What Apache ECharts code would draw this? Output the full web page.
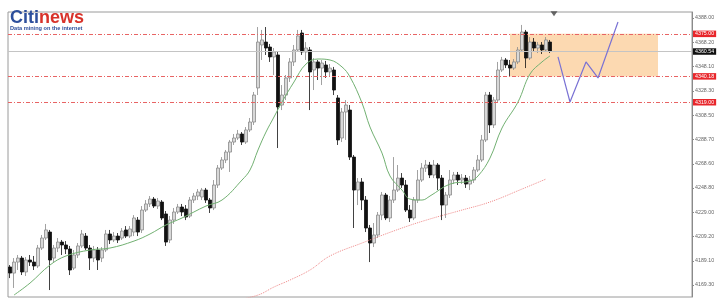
<!DOCTYPE html>
<html><head><meta charset="utf-8">
<script src="https://cdn.jsdelivr.net/npm/echarts@6/dist/echarts.min.js"></script>
<style>html,body{margin:0;padding:0;background:#fff}#c{width:725px;height:308px}</style>
</head><body><div id="c"></div>
<script>
// Candle values (price)
const opens = [
4184.1,4179.1,4188.1,4191.4,4180.0,4189.8,4188.1,4184.9,4199.6,4207.8,
4212.7,4191.4,4199.6,4204.5,4202.1,4198.8,4183.2,4193.9,4201.3,4209.4,
4199.6,4191.4,4198.0,4191.4,4198.0,4211.1,4206.2,4209.4,4207.8,4214.4,
4209.4,4212.7,4222.5,4214.4,4230.7,4235.7,4239.7,4234.0,4237.3,4227.5,
4206.2,4222.5,4229.1,4233.2,4231.6,4225.8,4238.9,4242.2,4241.4,4247.1,
4238.9,4232.4,4251.2,4265.1,4271.7,4278.2,4286.4,4289.7,4293.0,4286.4,
4296.3,4302.8,4330.7,4365.9,4368.3,4364.2,4356.1,4357.7,4316.7,4324.9,
4338.9,4352.0,4361.8,4375.7,4360.2,4361.8,4345.4,4352.0,4347.0,4349.5,
4343.8,4345.4,4322.5,4289.7,4311.0,4312.6,4274.1,4247.1,4253.7,4238.9,
4216.0,4203.7,4210.3,4226.6,4243.0,4224.2,4238.9,4247.1,4256.9,4251.2,
4230.7,4224.2,4238.9,4255.3,4265.1,4267.6,4259.4,4267.6,4256.9,4234.8,
4243.0,4255.3,4259.4,4255.3,4256.9,4252.0,4255.3,4263.5,4271.7,4288.1,
4324.9,4300.4,4320.8,4345.4,4353.6,4349.5,4347.0,4352.0,4361.8,4376.5,
4355.2,4368.3,4363.4,4365.9,4361.8,4368.3];
const closes = [
4179.1,4188.1,4191.4,4180.0,4189.8,4188.1,4184.9,4199.6,4207.8,4214.4,
4189.8,4199.6,4204.5,4202.1,4198.8,4181.6,4193.9,4201.3,4211.1,4199.6,
4191.4,4198.0,4189.8,4198.0,4211.1,4206.2,4209.4,4206.2,4213.5,4209.4,
4215.2,4224.2,4212.7,4230.7,4235.7,4239.7,4234.0,4238.1,4224.2,4204.5,
4222.5,4229.1,4233.2,4229.1,4225.0,4238.9,4242.2,4245.5,4247.1,4238.9,
4232.4,4251.2,4265.1,4271.7,4278.2,4286.4,4289.7,4293.0,4286.4,4296.3,
4302.8,4324.9,4368.3,4370.0,4363.4,4356.1,4360.2,4315.1,4324.9,4338.9,
4352.0,4361.8,4373.3,4360.2,4363.4,4343.8,4352.0,4347.0,4351.1,4343.8,
4347.0,4329.0,4288.1,4311.0,4316.7,4274.1,4247.1,4253.7,4238.9,4216.0,
4203.7,4210.3,4226.6,4243.0,4224.2,4238.9,4247.1,4256.9,4251.2,4230.7,
4224.2,4238.9,4255.3,4265.1,4267.6,4259.4,4267.6,4256.9,4234.8,4243.0,
4255.3,4259.4,4255.3,4256.9,4252.0,4255.3,4263.5,4271.7,4288.1,4324.9,
4300.4,4320.8,4345.4,4353.6,4349.5,4347.0,4352.0,4361.8,4376.5,4355.2,
4368.3,4363.4,4365.9,4361.8,4370.0,4360.54];
const highs = [
4185.7,4191.4,4193.9,4193.1,4192.2,4193.9,4193.1,4202.1,4210.3,4219.3,
4214.4,4202.1,4207.8,4206.2,4205.3,4201.3,4198.0,4203.7,4214.4,4211.9,
4202.1,4201.3,4200.4,4200.4,4214.4,4214.4,4212.7,4211.9,4216.0,4217.6,
4217.6,4226.6,4225.0,4234.0,4238.9,4242.2,4241.4,4240.6,4238.9,4229.9,
4225.8,4232.4,4235.7,4235.7,4234.8,4241.4,4244.7,4247.9,4248.8,4248.8,
4240.6,4255.3,4267.6,4274.1,4279.9,4288.1,4293.0,4296.3,4294.6,4298.7,
4306.1,4327.4,4380.6,4378.2,4380.6,4366.7,4363.4,4360.2,4333.1,4341.3,
4355.2,4365.9,4378.2,4378.2,4368.3,4364.2,4355.2,4353.6,4353.6,4352.8,
4350.3,4347.9,4324.9,4314.3,4320.8,4316.7,4275.8,4256.9,4256.9,4242.2,
4218.5,4220.1,4229.1,4245.5,4244.7,4242.2,4274.1,4267.6,4261.0,4255.3,
4234.8,4241.4,4263.5,4269.2,4271.7,4270.1,4271.7,4269.2,4259.4,4245.5,
4263.5,4261.9,4261.9,4260.2,4259.4,4258.6,4266.0,4275.8,4292.2,4327.4,
4327.4,4323.3,4352.0,4356.1,4355.2,4353.6,4354.4,4364.2,4382.3,4378.2,
4372.4,4371.6,4368.3,4368.3,4372.4,4370.0];
const lows = [
4175.0,4166.9,4181.6,4177.5,4176.7,4184.9,4181.6,4183.2,4198.0,4206.2,
4165.2,4188.1,4196.3,4193.9,4194.7,4177.5,4181.6,4191.4,4199.6,4198.0,
4181.6,4188.1,4181.6,4188.1,4196.3,4202.9,4204.5,4203.7,4206.2,4207.8,
4207.8,4209.4,4209.4,4211.9,4229.1,4233.2,4232.4,4231.6,4222.5,4201.3,
4203.7,4219.3,4227.5,4225.8,4222.5,4224.2,4236.5,4238.9,4238.9,4236.5,
4228.3,4230.7,4248.8,4263.5,4269.2,4261.9,4284.0,4288.1,4284.0,4284.8,
4294.6,4300.4,4324.9,4353.6,4357.7,4352.0,4341.3,4281.5,4312.6,4320.8,
4335.6,4348.7,4360.2,4357.7,4353.6,4312.6,4329.0,4337.2,4333.1,4338.9,
4340.5,4324.9,4284.0,4286.4,4288.1,4271.7,4216.0,4234.8,4230.7,4212.7,
4188.1,4200.4,4207.8,4222.5,4222.5,4220.9,4236.5,4245.5,4248.8,4229.1,
4220.9,4222.5,4236.5,4253.7,4261.9,4256.9,4256.9,4247.1,4222.5,4224.2,
4240.6,4252.0,4251.2,4252.0,4248.8,4247.1,4252.9,4261.9,4270.1,4286.4,
4293.8,4297.9,4319.2,4343.8,4347.0,4340.5,4345.4,4350.3,4360.2,4347.0,
4353.6,4360.2,4359.3,4358.5,4360.2,4359.3];
const futureSlots = 35;

// Moving averages read at bar index [index, price]
const maFast = [[1,4161.1],[5,4170.9],[10,4185.7],[14,4193.1],[20,4198.0],[25,4199.6],[31,4205.3],[35,4211.1],[39,4218.5],[43,4224.2],[49,4234.0],[53,4238.9],[58,4255.3],[60,4263.5],[62,4279.9],[64,4294.6],[66,4306.9],[68,4319.2],[71,4335.6],[74,4350.3],[77,4354.4],[80,4353.6],[83,4347.9],[85,4339.7],[88,4318.4],[90,4298.7],[93,4277.4],[95,4258.6],[98,4247.1],[100,4239.7],[103,4238.9],[105,4242.2],[110,4252.0],[115,4254.4],[117,4258.6],[120,4273.3],[123,4297.9],[127,4319.2],[130,4342.1],[133,4352.0],[135,4356.9]];
const maSlow = [[56,4156.5],[62,4161.1],[66,4167.7],[70,4173.4],[75,4181.6],[80,4193.1],[88,4203.7],[98,4216.0],[105,4223.4],[113,4230.7],[120,4237.3],[128,4247.9],[134,4256.1]];
const projection = [[137,4356.1],[140,4319.2],[144,4352.0],[147,4338.9],[152,4384.7]];

const yTicks = [4169.30,4189.10,4209.20,4229.00,4248.80,4268.60,4288.70,4308.50,4328.30,4348.10,4368.20,4388.00];
const levels = [4375.00, 4340.18, 4319.00];
const lastPrice = 4360.54;
const zoneTop = 4375.00, zoneBottom = 4340.18;
const zoneFrom = 125, zoneTo = 162;
const markerBar = 136;

const total = opens.length + futureSlots;
const categories = Array.from({length: total}, (_, i) => String(i));
const candles = opens.map((o, i) => [o, closes[i], lows[i], highs[i]]);

const FONT = 'Liberation Sans, Arial, sans-serif';
const chart = echarts.init(document.getElementById('c'), null, {renderer: 'canvas'});

const levelLines = levels.map(v => ({
  yAxis: v,
  lineStyle: {color: '#e86464', type: [4, 2, 1, 2], width: 1},
  label: {backgroundColor: '#e8262b', color: '#fff'}
}));
levelLines.push({
  yAxis: lastPrice,
  lineStyle: {color: '#c4c4c4', type: 'solid', width: 1},
  label: {backgroundColor: '#111', color: '#fff'}
});

chart.setOption({
  animation: false,
  backgroundColor: '#fff',
  grid: {left: 8, right: 33, top: 12, bottom: 11, show: true, borderColor: '#9a9a9a', borderWidth: 1, backgroundColor: 'transparent'},
  xAxis: {
    type: 'category', data: categories, boundaryGap: true,
    axisLine: {show: false}, axisTick: {show: false}, axisLabel: {show: false}, splitLine: {show: false}
  },
  yAxis: {
    type: 'value', position: 'right', min: 4159.5, max: 4392.9, scale: true,
    axisLine: {show: true, lineStyle: {color: '#8a8a8a'}},
    axisTick: {show: true, length: 2, customValues: yTicks, lineStyle: {color: '#8a8a8a'}},
    axisLabel: {customValues: yTicks, fontSize: 5.3, color: '#666', margin: 3, fontFamily: FONT,
      formatter: v => v.toFixed(2)},
    splitLine: {show: false}
  },
  graphic: [
    {type: 'text', left: 10, top: 9, z: 100, style: {
      text: '{a|Citi}{b|news}', fontFamily: FONT,
      rich: {a: {fontSize: 18, fontWeight: 'bold', fill: '#2d4f9c', fontFamily: FONT},
             b: {fontSize: 18, fontWeight: 'bold', fill: '#d8322a', fontFamily: FONT}}
    }},
    {type: 'text', left: 10, top: 25.5, z: 100, style: {
      text: 'Data mining on the internet', fontSize: 5.6, fontWeight: 'bold', fill: '#2d4f9c', fontFamily: FONT
    }}
  ],
  series: [
    {
      type: 'line', data: [], z: 1, silent: true,
      markArea: {silent: true, itemStyle: {color: '#fcd5a9', opacity: 0.9},
        data: [[{xAxis: String(zoneFrom), yAxis: zoneTop}, {xAxis: String(zoneTo), yAxis: zoneBottom}]]}
    },
    {
      type: 'line', data: [], z: 2, silent: true,
      markLine: {silent: true, symbol: 'none', animation: false,
        label: {position: 'end', distance: 1, fontSize: 5.3, fontFamily: FONT, padding: [1, 2, 0.5, 2],
          formatter: p => Number(p.value).toFixed(2)},
        data: levelLines}
    },
    {
      type: 'candlestick', data: candles, z: 3, barWidth: 2.6,
      itemStyle: {color: '#d8d8d8', color0: '#111', borderColor: '#8a8a8a', borderColor0: '#111', borderWidth: 0.8}
    },
    {
      type: 'line', data: maFast, z: 4, symbol: 'none', smooth: 0.4,
      lineStyle: {color: '#72b072', width: 1}
    },
    {
      type: 'line', data: maSlow, z: 4, symbol: 'none', smooth: 0.4,
      lineStyle: {color: '#ee8a8a', width: 1, type: 'dotted'}
    },
    {
      type: 'line', data: projection, z: 5, symbol: 'none',
      lineStyle: {color: '#7a72d4', width: 1.2}
    },
    {
      type: 'scatter', data: [[markerBar, 4391.5]], z: 6, symbol: 'triangle', symbolRotate: 180,
      symbolSize: [7, 5], itemStyle: {color: '#444'}
    }
  ]
});
</script>
</body></html>
